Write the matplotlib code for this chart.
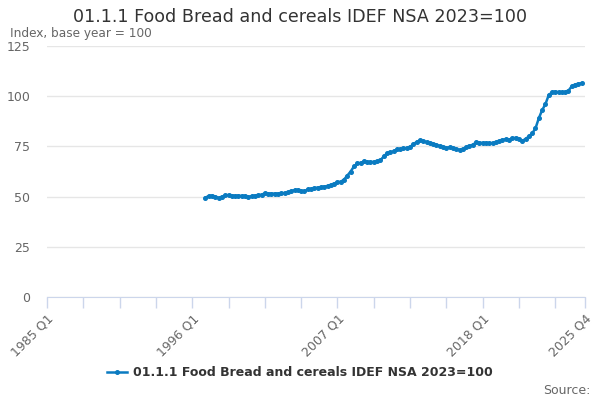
import matplotlib
matplotlib.use('Agg')
import matplotlib.pyplot as plt

title = '01.1.1 Food Bread and cereals IDEF NSA 2023=100'
subtitle = 'Index, base year = 100'

# quarterly categories 1985 Q1 .. 2025 Q4
quarters = [f'{y} Q{q}' for y in range(1985, 2026) for q in range(1, 5)]
first_obs = '1997 Q1'

values = [
    49.5, 50.3, 50.5, 50.0, 49.3, 50.0, 50.6, 50.8, 50.5, 50.4,
    50.5, 50.3, 50.4, 49.8, 50.2, 50.5, 50.7, 51.0, 51.6, 51.5,
    51.5, 51.5, 51.5, 51.6, 51.8, 52.1, 52.8, 53.2, 53.4, 52.8,
    52.6, 53.6, 53.8, 54.2, 54.5, 54.7, 55.0, 55.3, 55.9, 56.5,
    57.2, 57.4, 58.5, 60.5, 62.5, 65.0, 66.5, 66.8, 67.5, 67.3,
    67.2, 67.3, 67.5, 68.0, 70.0, 71.5, 72.0, 72.5, 73.5, 73.5,
    74.0, 74.2, 74.8, 76.0, 77.3, 78.0, 77.5, 77.2, 76.8, 76.3,
    75.8, 75.2, 74.5, 74.3, 74.6, 74.2, 73.6, 73.3, 73.8, 74.5,
    75.3, 75.8, 77.0, 76.9, 76.7, 76.8, 76.6, 76.7, 77.0, 77.6,
    78.3, 78.6, 78.4, 79.0, 79.3, 78.6, 77.8, 78.7, 80.0, 81.5,
    84.0, 89.0, 93.0, 96.0, 100.5, 102.0, 102.3, 102.0, 102.0, 102.0,
    102.8, 105.0, 105.8, 106.2, 106.5,
]

tick_labels = ['1985 Q1', '1996 Q1', '2007 Q1', '2018 Q1', '2025 Q4']
y_ticks = [0, 25, 50, 75, 100, 125]

start = quarters.index(first_obs)
x = list(range(start, start + len(values)))

blue = '#0a7bc1'
grey = '#666666'
axis_col = '#ccd6eb'

fig = plt.figure(figsize=(6, 4), dpi=100)
ax = fig.add_axes([47 / 600, 1 - 297 / 400, 538 / 600, 251 / 400])

ax.plot(x, values, color=blue, lw=1.8, marker='o', ms=2.6, label=title)

ax.set_xlim(0, len(quarters) - 1)
ax.set_ylim(0, 125)
ax.set_yticks(y_ticks)
ax.set_yticklabels([str(v) for v in y_ticks], color=grey, fontsize=9)
ax.grid(axis='y', color='#e6e6e6', lw=1)
ax.set_axisbelow(True)
ax.tick_params(axis='y', length=0, pad=12)

minor = list(range(0, len(quarters), 11)) + [len(quarters) - 1]
ax.set_xticks(minor)
ax.set_xticklabels([q if q in tick_labels else '' for q in (quarters[i] for i in minor)],
                   rotation=45, ha='right', va='top', rotation_mode='anchor',
                   color=grey, fontsize=9)
ax.tick_params(axis='x', length=8, color=axis_col, width=1, pad=3)

for s in ['left', 'right', 'top']:
    ax.spines[s].set_visible(False)
ax.spines['bottom'].set_color(axis_col)

fig.text(0.5, 1 - 22 / 400, title, ha='center', va='baseline', fontsize=12.6, color='#333333')
fig.text(10 / 600, 1 - 37.5 / 400, subtitle, ha='left', va='baseline', fontsize=8.7, color=grey)

leg = fig.legend(loc='center', bbox_to_anchor=(0.5, 1 - 373 / 400), frameon=False,
                 prop={'weight': 'bold', 'size': 9}, handlelength=1.6, handletextpad=0.5)
for t in leg.get_texts():
    t.set_color('#333333')

fig.text(590 / 600, 1 - 390 / 400, 'Source:', ha='right', va='center', fontsize=9, color=grey)

fig.savefig('out.png', dpi=100)
